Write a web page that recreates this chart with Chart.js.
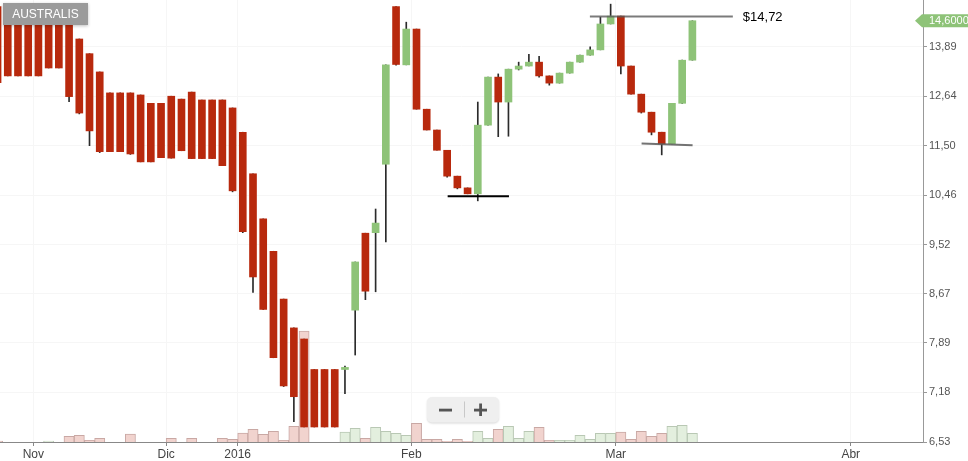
<!DOCTYPE html>
<html>
<head>
<meta charset="utf-8">
<script src="https://cdn.jsdelivr.net/npm/chart.js@4.4.1/dist/chart.umd.min.js"></script>
<style>
  html, body { margin: 0; padding: 0; background: #fff; }
  #wrap { width: 968px; height: 461px; }
</style>
</head>
<body>
<div id="wrap"><canvas id="chart" width="968" height="461"></canvas></div>
<script>
// sesiones (posición en el eje), -1 = vela cortada a la izquierda
const idx = [-1, 0, 1, 2, 3, 4, 5, 6, 7, 8, 9,
  10, 11, 12, 13, 14, 15, 16, 17, 18, 19,
  20, 21, 22, 23, 24, 25, 26, 27, 28, 29,
  30, 31, 32, 33, 34, 35, 36, 37, 38, 39,
  40, 41, 42, 43, 44, 45, 46, 47, 48, 49,
  50, 51, 52, 53, 54, 55, 56, 57, 58, 59,
  60, 61, 62, 63, 64, 65, 66, 67];

const opens = [15.00, 14.80, 14.80, 14.80, 14.80, 14.80, 14.80, 14.80, 14.10, 13.71, 13.24,
  12.72, 12.72, 12.72, 12.67, 12.47, 12.47, 12.64, 12.57, 12.74, 12.55,
  12.55, 12.55, 12.36, 11.80, 10.90, 10.00, 9.40, 8.58, 8.12, 7.95,
  7.50, 7.50, 7.50, 7.50, 8.40, 9.73, 9.74, 11.10, 15.00, 13.42,
  14.37, 12.33, 11.85, 11.40, 10.85, 10.61, 10.49, 11.96, 13.11, 12.50,
  13.31, 13.39, 13.49, 13.14, 12.96, 13.21, 13.49, 13.67, 13.81, 14.51,
  14.73, 13.39, 12.69, 12.26, 11.80, 11.54, 12.47, 13.54];

const highs = [15.00, 14.80, 14.80, 14.80, 14.80, 14.80, 14.80, 14.80, 14.10, 13.71, 13.24,
  12.72, 12.72, 12.72, 12.67, 12.47, 12.47, 12.64, 12.57, 12.74, 12.55,
  12.55, 12.55, 12.36, 11.80, 10.90, 10.00, 9.40, 8.58, 8.12, 7.95,
  7.50, 7.50, 7.50, 7.55, 9.21, 9.73, 10.19, 13.42, 15.00, 14.56,
  14.37, 12.33, 11.85, 11.40, 10.85, 10.61, 12.50, 13.11, 13.19, 13.31,
  13.49, 13.69, 13.64, 13.14, 13.21, 13.49, 13.67, 13.89, 14.70, 15.07,
  14.73, 13.39, 12.69, 12.26, 11.80, 12.47, 13.54, 14.60];

const lows = [12.97, 13.14, 13.14, 13.14, 13.14, 13.34, 13.34, 12.51, 12.22, 11.50, 11.35,
  11.37, 11.37, 11.31, 11.15, 11.15, 11.24, 11.23, 11.39, 11.22, 11.22,
  11.22, 11.07, 10.53, 9.74, 8.69, 8.41, 7.67, 7.26, 6.79, 6.72,
  6.72, 6.72, 6.72, 7.16, 7.71, 8.57, 8.70, 9.57, 13.41, 13.42,
  12.33, 11.85, 11.40, 10.83, 10.59, 10.49, 10.35, 11.96, 11.70, 11.71,
  13.29, 13.39, 13.11, 12.91, 12.96, 13.21, 13.49, 13.67, 13.81, 14.51,
  13.19, 12.69, 12.24, 11.74, 11.30, 11.54, 12.47, 13.54];

const closes = [12.97, 13.14, 13.14, 13.14, 13.14, 13.34, 13.34, 12.63, 12.24, 11.83, 11.37,
  11.37, 11.37, 11.32, 11.15, 11.15, 11.24, 11.23, 11.39, 11.22, 11.22,
  11.22, 11.07, 10.55, 9.76, 8.95, 8.41, 7.67, 7.27, 7.12, 6.72,
  6.72, 6.72, 6.72, 7.53, 9.21, 8.71, 9.92, 13.42, 13.43, 14.37,
  12.33, 11.85, 11.40, 10.85, 10.61, 10.49, 11.96, 13.11, 12.50, 13.31,
  13.39, 13.49, 13.14, 12.96, 13.21, 13.49, 13.67, 13.81, 14.51, 14.73,
  13.39, 12.69, 12.26, 11.80, 11.54, 12.47, 13.54, 14.60];

// volumen (miles)
const volumes = [1, null, null, null, null, 1, null, 5.7, 6.7, 1.7, 3.7,
  null, null, 8, null, null, null, 3.7, null, 3.7, null,
  null, 3.7, 2.7, 9, 12.7, 7.7, 10.7, 1.7, 15.7, 111,
  null, null, null, 10, 13.7, 3.7, 14.7, 10.7, 8.7, 6.7,
  18.7, 2.7, 2.7, 0.7, 2.7, 0.7, 10.7, 3.7, 12.7, 15.7,
  3.7, 10.7, 14.7, 1.7, 1.7, 1.7, 6.7, 2.7, 8.7, 8.7,
  10, 2.7, 10.7, 5.7, 8.7, 15.7, 16.7, 8.7];

const priceTicks = [6.53, 7.18, 7.89, 8.67, 9.52, 10.46, 11.50, 12.64, 13.89];
const monthTicks = [2.5, 15.5, 22.5, 39.5, 59.5, 82.5];
const monthLabels = ["Nov", "Dic", "2016", "Feb", "Mar", "Abr"];

// líneas de soporte / resistencia
const lineX0 = [56.97, 43.05, 62.03];
const lineX1 = [70.96, 49.05, 67.02];
const lineY0 = [14.72, 10.44, 11.55];
const lineY1 = [14.72, 10.44, 11.51];
const lineColors = ["rgba(90,90,90,0.8)", "#000000", "rgba(90,90,90,0.85)"];

const UP = "#8ec378";
const DOWN = "#b8290d";
const FONT = "'Liberation Sans', Arial, sans-serif";

Chart.defaults.font.family = FONT;

const bodyColors = idx.map((_, i) => closes[i] >= opens[i] ? UP : DOWN);
const volUp = idx.map((_, i) => i > 0 && closes[i] > closes[i - 1]);

function noPad(s) {
  s.paddingTop = 0;
  s.paddingBottom = 0;
  s.paddingLeft = 0;
  s.paddingRight = 0;
}

const overlay = {
  id: "overlay",
  afterDraw(chart) {
    const ctx = chart.ctx;
    const xs = chart.scales.x, ys = chart.scales.y, area = chart.chartArea;
    ctx.save();

    // valor de la resistencia
    ctx.font = "13px " + FONT;
    ctx.fillStyle = "#000";
    ctx.textAlign = "left";
    ctx.textBaseline = "middle";
    ctx.fillText("$" + lineY1[0].toFixed(2).replace(".", ","),
      xs.getPixelForValue(lineX1[0]) + 10, ys.getPixelForValue(lineY1[0]) + 0.5);

    // etiqueta del último precio
    const last = closes[closes.length - 1];
    const py = ys.getPixelForValue(last);
    const ax = area.right;
    ctx.fillStyle = UP;
    ctx.beginPath();
    ctx.moveTo(ax - 8, py);
    ctx.lineTo(ax - 1, py - 6.5);
    ctx.lineTo(chart.width, py - 6.5);
    ctx.lineTo(chart.width, py + 6.5);
    ctx.lineTo(ax - 1, py + 6.5);
    ctx.closePath();
    ctx.fill();
    ctx.fillStyle = "#fff";
    ctx.font = "11px " + FONT;
    ctx.fillText(last.toFixed(4).replace(".", ","), ax + 6, py + 0.5);

    // nombre del instrumento
    ctx.shadowColor = "rgba(0,0,0,0.25)";
    ctx.shadowBlur = 3;
    ctx.shadowOffsetY = 1;
    ctx.fillStyle = "#9b9b9b";
    ctx.fillRect(3, 3, 85, 22);
    ctx.shadowColor = "transparent";
    ctx.fillStyle = "#fff";
    ctx.font = "12px " + FONT;
    ctx.textAlign = "center";
    ctx.fillText("AUSTRALIS", 45.5, 14.5);

    // botones de zoom
    ctx.shadowColor = "rgba(0,0,0,0.15)";
    ctx.shadowBlur = 2;
    ctx.shadowOffsetY = 1;
    ctx.fillStyle = "#efefef";
    ctx.beginPath();
    ctx.roundRect(427, 397, 72, 25.5, 5);
    ctx.fill();
    ctx.shadowColor = "transparent";
    ctx.fillStyle = "#555";
    ctx.fillRect(439, 408.7, 13, 2.8);
    ctx.fillRect(474, 408.7, 13, 2.8);
    ctx.fillRect(479.2, 403.5, 2.8, 12.5);
    ctx.fillStyle = "#c8c8c8";
    ctx.fillRect(464, 401.5, 1, 16);

    ctx.restore();
  }
};

new Chart(document.getElementById("chart").getContext("2d"), {
  type: "bar",
  data: {
    datasets: [
      {
        label: "Volumen",
        yAxisID: "yVol",
        data: idx.map((x, i) => ({ x: x, y: volumes[i] })),
        backgroundColor: volUp.map(u => u ? "#e3efde" : "#f1d3ce"),
        borderColor: volUp.map(u => u ? "#b9c8b4" : "#c9a8a4"),
        borderWidth: 1,
        barThickness: 10.2,
        grouped: false,
        order: 4
      },
      {
        label: "Mecha",
        yAxisID: "y",
        data: idx.map((x, i) => ({ x: x, y: [lows[i], highs[i]] })),
        backgroundColor: "#2b2b2b",
        barThickness: 1,
        grouped: false,
        order: 3
      },
      {
        label: "Cuerpo",
        yAxisID: "y",
        data: idx.map((x, i) => ({ x: x, y: [opens[i], closes[i]] })),
        backgroundColor: bodyColors,
        barThickness: 7,
        grouped: false,
        order: 2
      },
      ...lineX0.map((x0, k) => ({
        type: "line",
        label: "Nivel " + k,
        yAxisID: "y",
        data: [{ x: x0, y: lineY0[k] }, { x: lineX1[k], y: lineY1[k] }],
        borderColor: lineColors[k],
        borderWidth: 2,
        pointRadius: 0,
        order: 1
      }))
    ]
  },
  options: {
    responsive: false,
    animation: false,
    events: [],
    layout: { padding: 0 },
    plugins: {
      legend: { display: false },
      tooltip: { enabled: false }
    },
    scales: {
      x: {
        type: "linear",
        min: -0.76,
        max: 89.57,
        offset: false,
        afterBuildTicks: s => { s.ticks = monthTicks.map(v => ({ value: v })); },
        afterFit: s => { s.height = 19; noPad(s); },
        ticks: {
          autoSkip: false,
          maxRotation: 0,
          color: "#444",
          font: { size: 12 },
          padding: 1,
          callback: (v, i) => monthLabels[i]
        },
        grid: { offset: false, color: "#f6f6f6", tickColor: "#888", tickLength: 4 },
        border: { color: "#888" }
      },
      y: {
        type: "logarithmic",
        position: "right",
        min: 6.53,
        max: 15.19,
        afterBuildTicks: s => { s.ticks = priceTicks.map(v => ({ value: v })); },
        afterFit: s => { s.width = 45; noPad(s); },
        ticks: {
          autoSkip: false,
          color: "#555",
          font: { size: 11 },
          padding: 2,
          callback: v => Number(v).toFixed(2).replace(".", ",")
        },
        grid: { color: "#f6f6f6", tickColor: "#999", tickLength: 4 },
        border: { color: "#999" }
      },
      yVol: {
        type: "linear",
        display: false,
        min: 0,
        max: 442
      }
    }
  },
  plugins: [overlay]
});
</script>
</body>
</html>
